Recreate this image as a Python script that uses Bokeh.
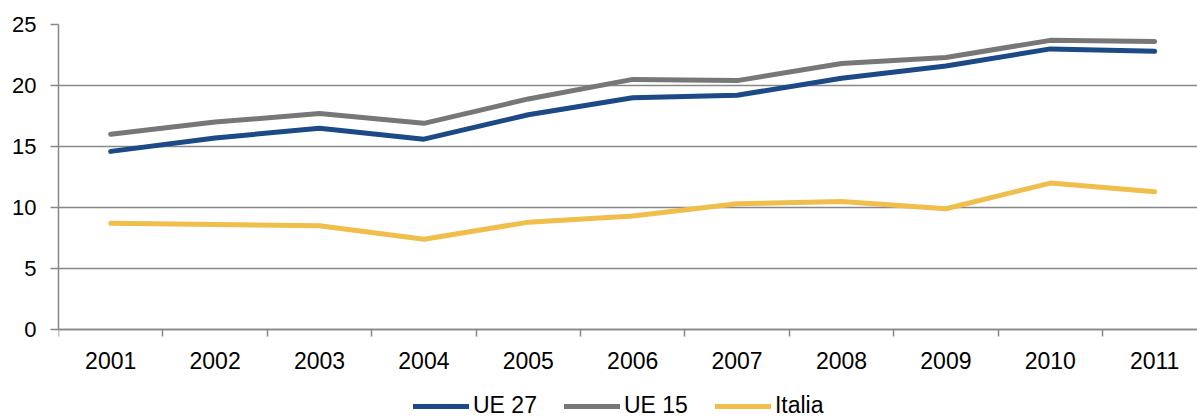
from bokeh.plotting import figure
from bokeh.models import Range1d, FixedTicker, Legend, LegendItem
from bokeh.embed import file_html
from bokeh.resources import INLINE

years = ["2001", "2002", "2003", "2004", "2005", "2006", "2007", "2008", "2009", "2010", "2011"]
ue27 = [14.6, 15.7, 16.5, 15.6, 17.6, 19.0, 19.2, 20.6, 21.6, 23.0, 22.8]
ue15 = [16.0, 17.0, 17.7, 16.9, 18.9, 20.5, 20.4, 21.8, 22.3, 23.7, 23.6]
italia = [8.7, 8.6, 8.5, 7.4, 8.8, 9.3, 10.3, 10.5, 9.9, 12.0, 11.3]
y_ticks = [0, 5, 10, 15, 20, 25]

xs = list(range(1, len(years) + 1))
FONT = "Liberation Sans"
GRID = "#878787"

# frame spans down to the bottom of the window; value 0 sits 90px above it
y_min = -90 / (305 / 25)

p = figure(frame_width=1139, frame_height=395, output_backend="svg", toolbar_location=None,
           x_range=Range1d(0.5, 11.41), y_range=Range1d(y_min, 25),
           min_border_left=58, min_border_top=24, min_border_right=0, min_border_bottom=0)
p.outline_line_color = None
p.background_fill_color = "white"
p.border_fill_color = "white"

p.xgrid.visible = False
p.ygrid.ticker = FixedTicker(ticks=y_ticks)
p.ygrid.grid_line_color = GRID
p.ygrid.grid_line_width = 1.5

# y axis
p.yaxis.axis_label = None
p.yaxis.bounds = (0, 25)
p.yaxis.ticker = FixedTicker(ticks=y_ticks)
p.yaxis.axis_line_color = GRID
p.yaxis.axis_line_width = 1.5
p.yaxis.major_tick_line_color = GRID
p.yaxis.major_tick_line_width = 1.5
p.yaxis.major_tick_out = 8
p.yaxis.major_tick_in = 0
p.yaxis.minor_tick_line_color = None
p.yaxis.major_label_standoff = 14
p.yaxis.major_label_text_font = FONT
p.yaxis.major_label_text_font_size = "22px"
p.yaxis.major_label_text_color = "black"

# x axis (category style: ticks between categories), drawn at value 0
p.xaxis.axis_label = None
p.xaxis.fixed_location = 0
p.xaxis.ticker = FixedTicker(ticks=xs, minor_ticks=[x - 0.5 for x in xs] + [len(xs) + 0.5])
p.xaxis.major_label_overrides = {x: y for x, y in zip(xs, years)}
p.xaxis.axis_line_color = GRID
p.xaxis.axis_line_width = 1.5
p.xaxis.major_tick_line_color = None
p.xaxis.major_tick_out = 0
p.xaxis.major_tick_in = 0
p.xaxis.minor_tick_line_color = GRID
p.xaxis.minor_tick_line_width = 1.5
p.xaxis.minor_tick_out = 7
p.xaxis.minor_tick_in = 0
p.xaxis.major_label_standoff = 15
p.xaxis.major_label_text_font = FONT
p.xaxis.major_label_text_font_size = "23px"
p.xaxis.major_label_text_color = "black"

series = [("UE 27", ue27, "#1B4A86"), ("UE 15", ue15, "#777777"), ("Italia", italia, "#F0BE4B")]
renderers = []
for name, vals, col in series:
    r = p.line(xs, vals, line_color=col, line_width=5, line_cap="round", line_join="round")
    renderers.append((name, r))

legend = Legend(items=[LegendItem(label=n, renderers=[r]) for n, r in renderers],
                orientation="horizontal", location=(355, 0),
                label_text_font=FONT, label_text_font_size="23px", label_text_color="black",
                glyph_width=56, glyph_height=20, label_height=20, label_standoff=4, spacing=27,
                border_line_color=None, background_fill_alpha=0,
                padding=0, margin=0)
p.add_layout(legend, "center")

open("out.html", "w").write(file_html(p, INLINE))
